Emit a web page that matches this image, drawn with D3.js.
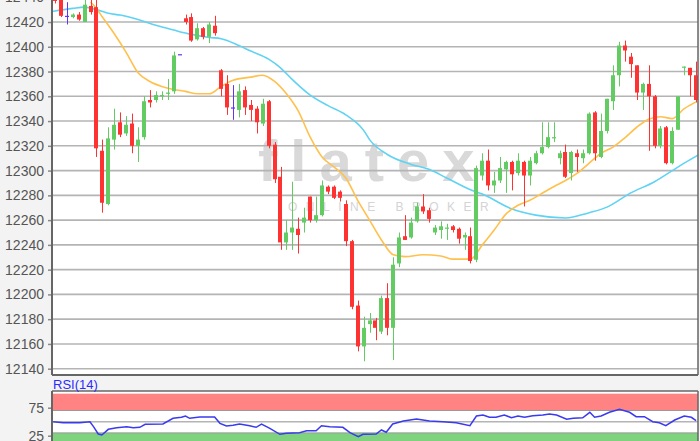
<!DOCTYPE html>
<html><head><meta charset="utf-8">
<script src="https://cdn.jsdelivr.net/npm/d3@7"></script>
<style>
html,body{margin:0;padding:0;background:#f3f3f3;}
svg{display:block;}
text{font-family:"Liberation Sans",Arial,sans-serif;}
</style></head>
<body><svg id="c" width="700" height="441"></svg>
<script>
// ---------------- data ----------------
const opens  = [12442,12438,12425,12424,12426,12420,12433,12432,12316,12273,12325,12339,12330,12338,12320,12327,12357,12357,12360,12362,12364,12394,12423,12424,12406,12415,12408,12417,12381,12370,12351,12349,12365,12353,12350,12338,12356,12321,12295,12242,12250,12253,12258,12279,12260,12264,12287,12287,12283,12273,12243,12191,12158,12176,12179,12170,12197,12173,12225,12247,12246,12259,12271,12268,12250,12252,12253,12255,12253,12246,12247,12228,12296,12308,12288,12292,12301,12307,12298,12307,12296,12306,12314,12319,12326,12310,12315,12298,12314,12310,12314,12347,12311,12332,12356,12377,12401,12392,12385,12363,12370,12360,12320,12335,12306,12333,12383,12383,12377];
const highs  = [12444,12440,12436,12427,12428,12440,12440,12440,12325,12335,12350,12347,12344,12346,12335,12360,12365,12364,12364,12374,12396,12394,12426,12427,12419,12416,12420,12425,12382,12377,12369,12370,12368,12357,12352,12358,12357,12323,12303,12260,12291,12262,12270,12279,12279,12292,12288,12288,12284,12276,12244,12195,12182,12185,12181,12199,12209,12230,12250,12264,12262,12274,12281,12270,12256,12259,12257,12256,12254,12250,12254,12304,12314,12317,12299,12311,12308,12308,12314,12308,12311,12316,12339,12339,12339,12316,12321,12316,12317,12317,12347,12348,12346,12358,12385,12404,12405,12395,12385,12371,12385,12361,12336,12336,12335,12360,12384,12383,12388];
const lows   = [12435,12424,12418,12423,12421,12420,12426,12311,12266,12272,12317,12327,12328,12314,12307,12325,12351,12355,12357,12357,12362,12394,12418,12404,12405,12406,12403,12409,12360,12345,12341,12343,12345,12340,12330,12336,12318,12290,12236,12236,12236,12233,12250,12258,12258,12263,12281,12277,12275,12239,12188,12154,12146,12169,12163,12168,12167,12147,12222,12244,12245,12258,12265,12258,12248,12245,12244,12250,12241,12236,12225,12226,12292,12284,12282,12290,12282,12284,12296,12271,12288,12305,12313,12318,12323,12305,12294,12292,12299,12306,12313,12308,12310,12330,12349,12368,12388,12375,12357,12349,12316,12318,12318,12305,12305,12333,12377,12360,12355];
const closes = [12437,12425,12425,12426,12422,12434,12428,12318,12274,12326,12337,12329,12337,12320,12325,12356,12355,12361,12361,12363,12393,12394,12420,12405,12415,12408,12418,12411,12366,12351,12351,12364,12351,12349,12339,12354,12320,12293,12242,12250,12254,12248,12262,12260,12264,12288,12283,12278,12278,12243,12190,12158,12173,12179,12173,12197,12173,12224,12246,12244,12258,12271,12267,12261,12254,12255,12254,12252,12245,12248,12227,12302,12308,12288,12292,12302,12307,12297,12308,12296,12308,12314,12319,12327,12327,12314,12295,12315,12311,12314,12346,12314,12332,12358,12377,12401,12397,12386,12363,12370,12360,12320,12334,12306,12332,12360,12384,12377,12357];

// moving averages: candle index -> value
const maFastIdx = [6,7,8,10,12,14,16,18,20,22,24,26,28,30,33,35,37,39,41,43,45,47,49,51,53,55,57,59,62,65,67,70,72,74,76,78,80,82,84,86,88,90,92,94,96,98,100,102,104,106,108];
const maFastVal = [12436,12431,12424,12410.5,12395.5,12379,12372,12368,12365.5,12364,12362,12362,12368,12373,12375.5,12377,12372,12362,12348,12327,12311,12303,12294,12276,12260,12244,12232,12230.5,12232,12231,12228.5,12228.5,12240,12252,12265,12272,12276,12281.5,12287,12292,12298,12306,12314,12319,12326.5,12335,12341.5,12343.5,12342,12350,12355.5];
const maSlowIdx = [-0.5,3,5,7,9,11,14,17,20,23,26,28,31,33,36,38,40,43,46,49,52,53,56,60,63,66,70,72,77,81,86,90,93,97,101,104,106,108.5];
const maSlowVal = [12428.5,12431,12432,12430,12427,12425.6,12422,12417.3,12413.5,12410,12407.5,12406.5,12401,12396.5,12390,12383,12373.5,12361,12352.5,12345,12332.5,12325,12313,12305,12301,12294,12284.5,12281,12269,12264,12261.7,12266,12270.5,12282,12291,12300,12306,12313];

// RSI(14): candle index -> value
const rsiIdx = [-0.3,1.4,4.2,5.9,6.5,7.3,7.9,9,10.4,12.1,13.2,14.3,15.2,18.2,19.9,21.3,22,22.7,24.4,26.9,27.8,28.9,30,31.1,32.8,33.9,34.8,36.2,37.9,39,41.2,42.4,44,44.9,46.3,48.5,49.7,51.1,51.9,54.1,55,55.8,56.9,58.7,60.9,63.1,65.4,67.6,69.9,71,72.1,73.2,74.3,75.7,76.9,78,79.1,80.5,82.2,83.3,84.5,86.2,87.3,88.9,90.1,90.9,92,93.4,95.1,96.8,97.9,99.3,100.7,101.8,102.9,104.4,106,107.2,108] ;
const rsiVal = [50,48.2,48.2,50,41.1,28,26.2,36.4,39.3,41.1,39.3,40,45.4,45.9,56.1,57.9,60.2,56.1,58.4,58.4,47.1,42.3,43.6,45.9,42.9,40,45.9,38.2,27.5,29.3,30.4,33.9,33.9,42.9,41.1,40,30.4,23.2,27.5,28,35.2,31.1,45.9,51.3,54.8,51.3,50,48.2,42.9,60.2,62,57.9,57.9,62,57.1,60.2,57.9,60.7,62,63.8,62,54.3,56.1,57.1,66.8,57.9,60.2,66.8,72.1,66.8,58.9,58.9,50,48.2,42.9,53,60.2,57.9,51.8];

const priceTicks = [12140,12160,12180,12200,12220,12240,12260,12280,12300,12320,12340,12360,12380,12400,12420,12440];
const rsiTicks = [25,75];
const rsiGrid = [50];
const rsiBands = [[70,100],[0,30]];

// ---------------- layout ----------------
const svg = d3.select('#c');
const L = 52, R = 698, PT = -3, PB = 375, RT = 391, RB = 441;
const n = opens.length;
const x = d3.scaleBand().domain(d3.range(n)).range([L, R + 1]).paddingInner(0.32).paddingOuter(0.15);
const bw = x.bandwidth();
const xi = d3.scaleLinear().domain([0, n - 1]).range([x(0) + bw / 2, x(n - 1) + bw / 2]);
const y = d3.scaleLinear().domain([12140, 12420]).range([368.7, 22]);
const yr = d3.scaleLinear().domain([0, 100]).range([449.7, 393.7]);

const defs = svg.append('defs');
defs.append('clipPath').attr('id', 'cp').append('rect').attr('x', L).attr('y', PT).attr('width', R - L).attr('height', PB - PT);
defs.append('clipPath').attr('id', 'cr').append('rect').attr('x', L).attr('y', RT).attr('width', R - L).attr('height', RB - RT + 10);

// panels
svg.append('rect').attr('x', L).attr('y', PT).attr('width', R - L).attr('height', PB - PT).attr('fill', '#fff');
svg.append('rect').attr('x', L).attr('y', RT).attr('width', R - L).attr('height', RB - RT + 10).attr('fill', '#fff');

// watermark
const wm = svg.append('g').attr('clip-path', 'url(#cp)');
wm.append('text').attr('x', 258).attr('y', 181).text('flatex')
  .attr('font-family', 'Lato, "Open Sans", sans-serif').attr('font-size', 58).attr('font-weight', 700)
  .attr('letter-spacing', 13).attr('fill', '#d9d9d9');
wm.append('text').attr('x', 288).attr('y', 211).text('ONLINE BROKER')
  .attr('font-size', 12).attr('letter-spacing', 8.5).attr('fill', '#d4d4d4');

// grid
svg.append('g').selectAll('line').data(priceTicks).join('line')
  .attr('x1', L).attr('x2', R).attr('y1', d => y(d)).attr('y2', d => y(d))
  .attr('stroke', '#b4b4b4').attr('stroke-width', 1.6);

// moving averages
const gp = svg.append('g').attr('clip-path', 'url(#cp)');
const lineXY = d3.line().x(d => xi(d[0])).y(d => y(d[1])).curve(d3.curveMonotoneX);
gp.append('path').datum(maSlowIdx.map((d, i) => [d, maSlowVal[i]])).attr('d', lineXY)
  .attr('fill', 'none').attr('stroke', '#5fd3f3').attr('stroke-width', 1.6);
gp.append('path').datum(maFastIdx.map((d, i) => [d, maFastVal[i]])).attr('d', lineXY)
  .attr('fill', 'none').attr('stroke', '#ffc04c').attr('stroke-width', 1.6);

// candles
const candles = d3.range(n).map(i => ({i, o: opens[i], h: highs[i], l: lows[i], c: closes[i]}));
const col = d => d.c > d.o ? '#62cc62' : (d.c < d.o ? '#ff3232' : '#6633ee');
const cg = gp.append('g').selectAll('g').data(candles).join('g');
cg.append('line').attr('x1', d => Math.round(x(d.i) + bw / 2) + 0.5).attr('x2', d => Math.round(x(d.i) + bw / 2) + 0.5)
  .attr('y1', d => y(d.h)).attr('y2', d => y(d.l)).attr('stroke', col).attr('stroke-width', 1);
cg.append('rect').attr('x', d => Math.round(x(d.i)) ).attr('width', Math.round(bw))
  .attr('y', d => y(Math.max(d.o, d.c))).attr('height', d => Math.max(1.2, Math.abs(y(d.o) - y(d.c))))
  .attr('fill', col);

// axes
const ax = svg.append('g').attr('transform', `translate(${L},0)`)
  .call(d3.axisLeft(y).tickValues(priceTicks).tickSize(4).tickPadding(4).tickFormat(d3.format('d')));
ax.select('.domain').remove();
ax.selectAll('.tick line').attr('stroke', '#888').attr('stroke-width', 1.5);
ax.selectAll('.tick text').attr('font-size', 14).attr('fill', '#555').attr('font-family', '"Liberation Sans",Arial,sans-serif');
svg.append('line').attr('x1', L).attr('x2', L).attr('y1', PT).attr('y2', PB).attr('stroke', '#666').attr('stroke-width', 2);
svg.append('line').attr('x1', L).attr('x2', R).attr('y1', PB).attr('y2', PB).attr('stroke', '#666').attr('stroke-width', 2);
svg.append('line').attr('x1', R).attr('x2', R).attr('y1', PT).attr('y2', PB).attr('stroke', '#666').attr('stroke-width', 1.5);

// RSI panel
const rg = svg.append('g').attr('clip-path', 'url(#cr)');
rg.selectAll('rect.band').data(rsiBands).join('rect').attr('class', 'band')
  .attr('x', L).attr('width', R - L).attr('y', d => yr(d[1])).attr('height', d => yr(d[0]) - yr(d[1]))
  .attr('fill', (d, i) => i === 0 ? '#ff8383' : '#7fd37f');
rg.selectAll('line.bl').data([70, 30]).join('line').attr('class', 'bl')
  .attr('x1', L).attr('x2', R).attr('y1', d => yr(d)).attr('y2', d => yr(d)).attr('stroke', '#999').attr('stroke-width', 1);
rg.selectAll('line.g').data(rsiGrid).join('line').attr('class', 'g')
  .attr('x1', L).attr('x2', R).attr('y1', d => yr(d)).attr('y2', d => yr(d)).attr('stroke', '#b4b4b4').attr('stroke-width', 1.6);
rg.append('path').datum(rsiIdx.map((d, i) => [d, rsiVal[i]]))
  .attr('d', d3.line().x(d => xi(d[0])).y(d => yr(d[1])))
  .attr('fill', 'none').attr('stroke', '#3a3aee').attr('stroke-width', 1.5);
const ar = svg.append('g').attr('transform', `translate(${L},0)`)
  .call(d3.axisLeft(yr).tickValues(rsiTicks).tickSize(4).tickPadding(4));
ar.select('.domain').remove();
ar.selectAll('.tick line').attr('stroke', '#888').attr('stroke-width', 1.5);
ar.selectAll('.tick text').attr('font-size', 14).attr('fill', '#555').attr('font-family', '"Liberation Sans",Arial,sans-serif');
svg.append('line').attr('x1', L).attr('x2', R).attr('y1', RT).attr('y2', RT).attr('stroke', '#666').attr('stroke-width', 1.5);
svg.append('line').attr('x1', L).attr('x2', L).attr('y1', RT).attr('y2', RB).attr('stroke', '#666').attr('stroke-width', 2);
svg.append('line').attr('x1', R).attr('x2', R).attr('y1', RT).attr('y2', RB).attr('stroke', '#666').attr('stroke-width', 1.5);
svg.append('text').attr('x', L + 1).attr('y', 389).text('RSI(14)').attr('font-size', 13).attr('fill', '#2b2bff');
</script></body></html>
